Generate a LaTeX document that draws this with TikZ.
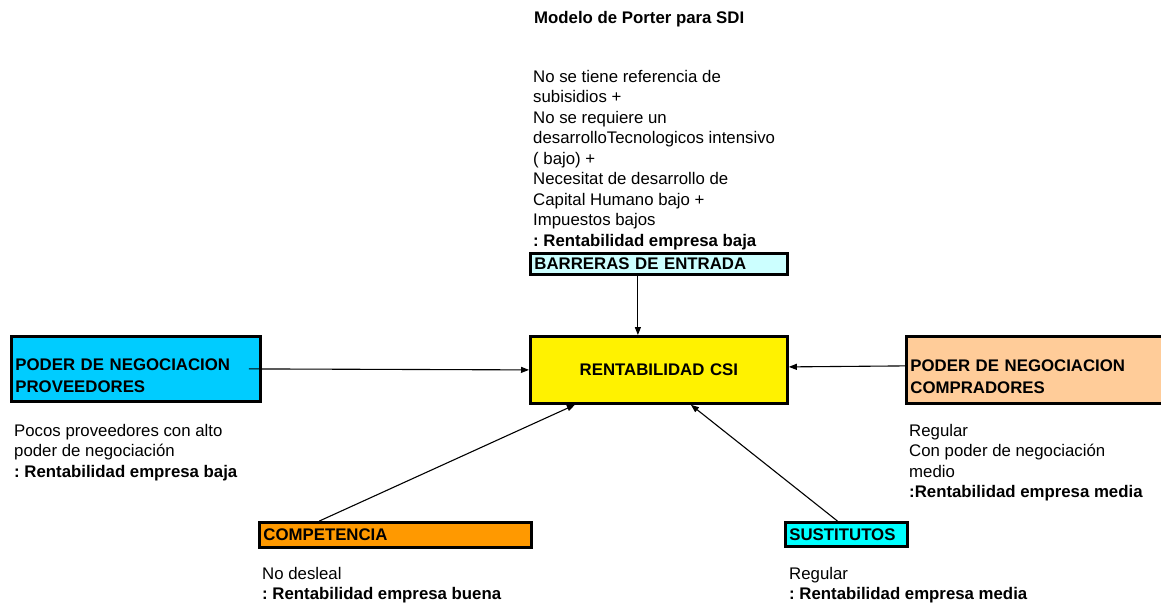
\documentclass[tikz,border=0pt]{standalone}
\usepackage{fontspec}
\setmainfont{Liberation Sans}
\usetikzlibrary{arrows.meta, positioning}

\definecolor{barfill}{HTML}{CCFFFF}
\definecolor{provfill}{HTML}{00CCFF}
\definecolor{compfill}{HTML}{FFCC99}
\definecolor{competfill}{HTML}{FF9900}
\definecolor{sustfill}{HTML}{00FFFF}

\frenchspacing
\newcommand{\padtop}{\rule{0pt}{26pt}}

\begin{document}
\begin{tikzpicture}[
	x=1pt, y=-1pt,
	font=\fontsize{16.8}{20.5}\selectfont,
	force/.style={
		draw,
		line width=2.8pt,
		anchor=north west,
		inner xsep=4pt,
		inner ysep=0pt,
		align=left,
		font=\fontsize{16.8}{22}\selectfont\bfseries
	},
	note/.style={
		anchor=north west,
		inner sep=0pt,
		align=left
	},
	link/.style={
		line width=1.1pt,
		-{Triangle[length=8pt,width=6pt]}
	}
	]
	\useasboundingbox (0,0) rectangle (1161,604);

	% title and entry barrier text
	\node[note, font=\fontsize{16.8}{20.5}\selectfont\bfseries] (title) at (534,11) {Modelo de Porter para SDI};
	\node[note] (bartext) at (533,70) {No se tiene referencia de\\subisidios +\\No se requiere un\\desarrolloTecnologicos intensivo\\( bajo) +\\Necesitat de desarrollo de\\Capital Humano bajo +\\Impuestos bajos\\\textbf{: Rentabilidad empresa baja}};

	% the five forces
	\node[force, fill=barfill, text width=249pt, minimum height=21pt] (bar) at (529,252) {BARRERAS DE ENTRADA};
	\node[force, fill=yellow, text width=249pt, minimum height=67pt, align=center] (rent) at (529,335) {RENTABILIDAD CSI};
	\node[force, fill=provfill, text width=241pt, minimum height=65pt] (prov) at (10,335) {\padtop PODER DE NEGOCIACION\\PROVEEDORES};
	\node[force, fill=compfill, text width=257pt, minimum height=67pt] (compr) at (905,335) {\padtop PODER DE NEGOCIACION\\COMPRADORES};
	\node[force, fill=competfill, text width=264pt, minimum height=25pt] (compet) at (258,521) {COMPETENCIA};
	\node[force, fill=sustfill, text width=114pt, minimum height=24pt] (sust) at (784,521) {SUSTITUTOS};

	% notes under the boxes
	\node[note] (provtext) at (14,424) {Pocos proveedores con alto\\poder de negociación\\\textbf{: Rentabilidad empresa baja}};
	\node[note] (comprtext) at (909,424) {Regular\\Con poder de negociación\\medio\\\textbf{:Rentabilidad empresa media}};
	\node[note] (compettext) at (262,567) {No desleal\\\textbf{: Rentabilidad empresa buena}};
	\node[note] (susttext) at (789,567) {Regular\\\textbf{: Rentabilidad empresa media}};

	% arrows into the center
	\draw[link] ([xshift=-21pt]bar.south) -- ([xshift=-21pt]rent.north);
	\draw[link] ([xshift=-13pt]prov.east) -- (rent.west);
	\draw[link] ([yshift=4pt]compr.west) -- ([yshift=3pt]rent.east);
	\draw[link] ([xshift=-76pt]compet.north) -- ([xshift=-84pt]rent.south);
	\draw[link] ([xshift=-9pt]sust.north) -- ([xshift=32pt]rent.south);
\end{tikzpicture}
\end{document}
